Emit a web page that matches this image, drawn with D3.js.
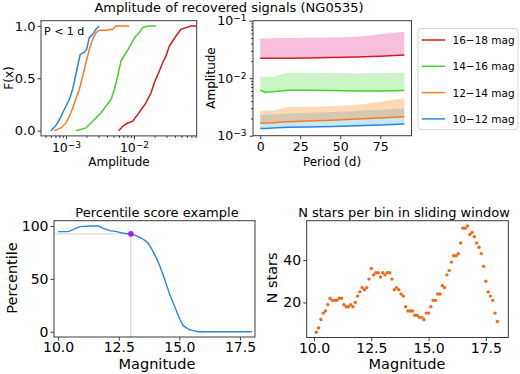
<!DOCTYPE html>
<html>
<head>
<meta charset="utf-8">
<script src="https://cdn.jsdelivr.net/npm/d3@7"></script>
<style>
  body { margin: 0; background: white; }
  svg { font-family: "DejaVu Sans", sans-serif; }
</style>
</head>
<body>
<div id="chart"></div>
<script>
// ---- data: CDF of recovered amplitudes (P < 1 d), [amplitude, F(x)]
const cdfBlue = [[6.0e-4,0],[7.1e-4,0.048],[8.4e-4,0.131],[9.4e-4,0.20],[1.12e-3,0.297],[1.25e-3,0.393],[1.40e-3,0.537],[1.52e-3,0.649],[1.62e-3,0.728],[1.86e-3,0.75],[2.01e-3,0.776],[2.2e-3,0.888],[2.47e-3,0.92],[2.76e-3,0.968],[3.09e-3,1.0]];
const cdfOrange = [[6.7e-4,0],[8.4e-4,0.026],[1.0e-3,0.073],[1.18e-3,0.169],[1.33e-3,0.265],[1.57e-3,0.393],[1.76e-3,0.52],[1.97e-3,0.649],[2.2e-3,0.776],[2.47e-3,0.872],[2.76e-3,0.936],[3.09e-3,0.96],[3.87e-3,0.96],[4.85e-3,0.968],[5.43e-3,1.0],[8.5e-3,1.0]];
const cdfGreen = [[1.40e-3,0],[1.97e-3,0.026],[2.33e-3,0.073],[2.76e-3,0.121],[3.27e-3,0.169],[3.87e-3,0.233],[4.59e-3,0.297],[5.14e-3,0.393],[5.75e-3,0.52],[6.44e-3,0.665],[7.62e-3,0.744],[8.5e-3,0.792],[9.55e-3,0.856],[1.07e-2,0.904],[1.2e-2,0.936],[1.34e-2,0.984],[1.59e-2,1.0],[2.11e-2,1.0]];
const cdfRed = [[5.95e-3,0],[6.81e-3,0.042],[8.07e-3,0.073],[9.55e-3,0.089],[1.13e-2,0.153],[1.27e-2,0.2],[1.5e-2,0.265],[1.78e-2,0.361],[1.99e-2,0.457],[2.36e-2,0.569],[2.64e-2,0.649],[2.95e-2,0.712],[3.31e-2,0.808],[3.7e-2,0.856],[4.15e-2,0.904],[4.91e-2,0.968],[5.82e-2,0.984],[6.89e-2,1.0],[8.17e-2,1.0]];

// ---- data: amplitude vs period, median line and upper band edge
const periods = [0, 3, 8, 17, 30, 45, 60, 75, 90];
const redMed = [0.0222, 0.0222, 0.0222, 0.0223, 0.0225, 0.0228, 0.0234, 0.0242, 0.0253];
const redTop = [0.049, 0.0492, 0.0495, 0.050, 0.0505, 0.051, 0.052, 0.058, 0.064];
const greenMed = [0.0062, 0.0057, 0.0058, 0.0062, 0.0062, 0.0061, 0.0060, 0.0060, 0.0061];
const greenTop = [0.0106, 0.0105, 0.0106, 0.0125, 0.0124, 0.0123, 0.0122, 0.0123, 0.0124];
const orangeMed = [0.00164, 0.00166, 0.00168, 0.00175, 0.00180, 0.00186, 0.00195, 0.00204, 0.00214];
const orangeTop = [0.00272, 0.00272, 0.00275, 0.00311, 0.00318, 0.00325, 0.00341, 0.0039, 0.00446];
const blueMed = [0.00134, 0.00134, 0.00136, 0.0014, 0.00142, 0.00145, 0.00149, 0.00154, 0.0016];
const blueTop = [0.00229, 0.0023, 0.00233, 0.00244, 0.0025, 0.00258, 0.00268, 0.00283, 0.00298];
const legendLabels = ["16\u221218 mag", "14\u221216 mag", "12\u221214 mag", "10\u221212 mag"];

// ---- data: percentile score example
const pctMag = [10.0, 10.42, 10.9, 11.31, 11.66, 11.86, 12.14, 12.41, 12.69, 13.0, 13.24, 13.44, 13.65, 13.79, 13.92, 14.06, 14.2, 14.33, 14.47, 14.61, 14.75, 14.89, 15.03, 15.16, 15.37, 15.57, 15.78, 16.0, 18.0];
const pctVal = [94.7, 94.7, 99.4, 100, 100, 97.8, 95.6, 94.7, 93.1, 92.5, 90.6, 88.4, 85.2, 81.1, 75.7, 69.4, 61.6, 53.8, 44.3, 34.9, 27, 19.2, 11.3, 5.7, 2.5, 1.0, 0, 0, 0];
const markMag = 13.0, markPct = 92.5;

// ---- data: N stars per bin in sliding window
const binMag = [10.1,10.2,10.3,10.4,10.5,10.6,10.7,10.8,10.9,11.0,11.1,11.2,11.3,11.4,11.5,11.6,11.7,11.8,11.9,12.0,
  12.1,12.2,12.3,12.4,12.5,12.6,12.7,12.8,12.9,13.0,13.1,13.2,13.3,13.4,13.5,13.6,13.7,13.8,13.9,14.0,
  14.1,14.2,14.3,14.4,14.5,14.6,14.7,14.8,14.9,15.0,15.1,15.2,15.3,15.4,15.5,15.6,15.7,15.8,15.9,16.0,
  16.1,16.2,16.3,16.4,16.5,16.6,16.7,16.8,16.9,17.0,17.1,17.2,17.3,17.4,17.5,17.6,17.7,17.8,17.9,18.0];
const binN = [6,8,12,15,16,19,22,21,21,21,22,22,19,18,18,19,18,20,23,25,
  27,26,27,31,36,33,34,34,32,34,33,34,34,31,26,27,26,24,23,18,
  16,16,16,14,14,13,13,12,15,15,18,21,21,24,24,28,27,33,35,39,
  42,42,43,48,55,55,56,52,53,51,48,46,43,37,30,25,23,21,15,11];

const C = { red: "#d9191c", green: "#45d12c", orange: "#f97b1f", blue: "#2f82e0" };

const svg = d3.select("#chart").append("svg")
  .attr("width", 520).attr("height", 374)
  .style("background-color", "white");

function frame(x0, y0, x1, y1) {
  svg.append("rect").attr("x", x0).attr("y", y0)
    .attr("width", x1 - x0).attr("height", y1 - y0)
    .attr("fill", "none").attr("stroke", "#3a3a3a").attr("stroke-width", 1);
}
function styleAxis(g, size) {
  g.select(".domain").remove();
  g.selectAll(".tick line").attr("stroke", "#3a3a3a");
  g.selectAll("text").attr("fill", "black").style("font-size", size + "px")
    .style("font-family", "DejaVu Sans");
}
function sciLabel(sel, dy) {
  sel.each(function(d) {
    const t = d3.select(this).text("");
    t.append("tspan").text("10");
    t.append("tspan").attr("dy", dy).style("font-size", "0.72em").text("\u2212" + Math.round(-Math.log10(d)));
  });
}
function minors(lo, hi) {
  const out = [];
  for (let e = -4; e <= -1; e++) for (let m = 2; m <= 9; m++) {
    const v = m * Math.pow(10, e);
    if (v > lo && v < hi) out.push(v);
  }
  return out;
}

// Titulo geral
svg.append("text").attr("x", 229).attr("y", 11.5).attr("text-anchor", "middle")
  .style("font-size", "13px").text("Amplitude of recovered signals (NG0535)");

// ===== Panel 1: CDF
{
  const x = d3.scaleLog().domain([4.29e-4, 8.36e-2]).range([41, 196.7]);
  const y = d3.scaleLinear().domain([-0.05, 1.05]).range([135.9, 20.7]);
  const line = d3.line().x(d => x(d[0])).y(d => y(d[1]));
  [[cdfBlue, C.blue], [cdfOrange, C.orange], [cdfGreen, C.green], [cdfRed, C.red]].forEach(([d, c]) => {
    svg.append("path").datum(d).attr("d", line).attr("fill", "none")
      .attr("stroke", c).attr("stroke-width", 1.5);
  });
  svg.append("g").attr("transform", "translate(0,135.9)")
    .call(d3.axisBottom(x).tickValues(minors(4.29e-4, 8.36e-2)).tickSize(2).tickFormat(""))
    .call(g => styleAxis(g, 12));
  const gx = svg.append("g").attr("transform", "translate(0,135.9)")
    .call(d3.axisBottom(x).tickValues([1e-3, 1e-2]).tickSize(3.5).tickPadding(4))
    .call(g => styleAxis(g, 12.5));
  gx.selectAll(".tick text").call(sciLabel, "-0.45em");
  svg.append("g").attr("transform", "translate(41,0)")
    .call(d3.axisLeft(y).tickValues([0, 0.5, 1]).tickFormat(d3.format(".1f")).tickSize(3.5).tickPadding(2))
    .call(g => styleAxis(g, 13));
  frame(41, 20.7, 196.7, 135.9);
  svg.append("text").attr("x", 44).attr("y", 35).style("font-size", "11px").text("P < 1 d");
  svg.append("text").attr("x", 119).attr("y", 166).attr("text-anchor", "middle")
    .style("font-size", "12px").text("Amplitude");
  svg.append("text").attr("transform", "translate(13,78) rotate(-90)").attr("text-anchor", "middle")
    .style("font-size", "12px").text("F(x)");
}

// ===== Panel 2: amplitude vs period
{
  const x = d3.scaleLinear().domain([-4.5, 94.5]).range([253, 411.5]);
  const y = d3.scaleLog().domain([1e-3, 1e-1]).range([135.7, 20.7]);
  const series = [
    [blueMed, blueTop, C.blue, "#3cb4e6", 0.3],
    [orangeMed, orangeTop, C.orange, "#ff7f0e", 0.3],
    [greenMed, greenTop, C.green, "#5ee04a", 0.32],
    [redMed, redTop, C.red, "#ee5fa8", 0.4]
  ];
  series.forEach(([med, top, c, fc, op]) => {
    const area = d3.area().x((d, i) => x(periods[i])).y0((d, i) => y(med[i])).y1(d => y(d));
    svg.append("path").datum(top).attr("d", area).attr("fill", fc).attr("fill-opacity", op);
  });
  series.forEach(([med, top, c]) => {
    const line = d3.line().x((d, i) => x(periods[i])).y(d => y(d));
    svg.append("path").datum(med).attr("d", line).attr("fill", "none")
      .attr("stroke", c).attr("stroke-width", 1.5);
  });
  svg.append("g").attr("transform", "translate(0,135.7)")
    .call(d3.axisBottom(x).tickValues([0, 25, 50, 75]).tickSize(3.5).tickPadding(3))
    .call(g => styleAxis(g, 12.5));
  svg.append("g").attr("transform", "translate(253,0)")
    .call(d3.axisLeft(y).tickValues(minors(1e-3, 1e-1)).tickSize(2).tickFormat(""))
    .call(g => styleAxis(g, 12));
  const gy = svg.append("g").attr("transform", "translate(253,0)")
    .call(d3.axisLeft(y).tickValues([1e-3, 1e-2, 1e-1]).tickSize(3.5).tickPadding(3))
    .call(g => styleAxis(g, 12.5));
  gy.selectAll(".tick text").call(sciLabel, "-0.45em");
  frame(253, 20.7, 411.5, 135.7);
  svg.append("text").attr("x", 332).attr("y", 166).attr("text-anchor", "middle")
    .style("font-size", "12px").text("Period (d)");
  svg.append("text").attr("transform", "translate(215,78) rotate(-90)").attr("text-anchor", "middle")
    .style("font-size", "12px").text("Amplitude");

  // Legenda
  svg.append("rect").attr("x", 418).attr("y", 28.5).attr("width", 100).attr("height", 101)
    .attr("rx", 3).attr("fill", "white").attr("stroke", "#d8d8d8");
  const legColors = [C.red, C.green, C.orange, C.blue];
  legendLabels.forEach((lab, i) => {
    const yy = 40 + i * 26.3;
    svg.append("line").attr("x1", 422).attr("x2", 445).attr("y1", yy).attr("y2", yy)
      .attr("stroke", legColors[i]).attr("stroke-width", 1.5);
    svg.append("text").attr("x", 452.5).attr("y", yy + 4).style("font-size", "10.5px").text(lab);
  });
}

// ===== Panel 3: percentile score example
{
  const x = d3.scaleLinear().domain([9.83, 18.12]).range([54, 255]);
  const y = d3.scaleLinear().domain([-5, 105]).range([337, 220.7]);
  svg.append("line").attr("x1", x(9.83)).attr("x2", x(markMag)).attr("y1", y(markPct)).attr("y2", y(markPct))
    .attr("stroke", "#d0d0d0").attr("stroke-width", 1);
  svg.append("line").attr("x1", x(markMag)).attr("x2", x(markMag)).attr("y1", y(markPct)).attr("y2", y(-5))
    .attr("stroke", "#d0d0d0").attr("stroke-width", 1);
  const line = d3.line().x((d, i) => x(pctMag[i])).y(d => y(d));
  svg.append("path").datum(pctVal).attr("d", line).attr("fill", "none")
    .attr("stroke", C.blue).attr("stroke-width", 1.4);
  svg.append("circle").attr("cx", x(markMag)).attr("cy", y(markPct)).attr("r", 2.8).attr("fill", "#a322ee");
  svg.append("g").attr("transform", "translate(0,337)")
    .call(d3.axisBottom(x).tickValues([10, 12.5, 15, 17.5]).tickFormat(d3.format(".1f")).tickSize(3.5).tickPadding(2))
    .call(g => styleAxis(g, 14));
  svg.append("g").attr("transform", "translate(54,0)")
    .call(d3.axisLeft(y).tickValues([0, 50, 100]).tickSize(3.5).tickPadding(2))
    .call(g => styleAxis(g, 14));
  frame(54, 220.7, 255, 337);
  svg.append("text").attr("x", 157).attr("y", 217).attr("text-anchor", "middle")
    .style("font-size", "13px").text("Percentile score example");
  svg.append("text").attr("x", 157).attr("y", 369).attr("text-anchor", "middle")
    .style("font-size", "14.5px").text("Magnitude");
  svg.append("text").attr("transform", "translate(17,278) rotate(-90)").attr("text-anchor", "middle")
    .style("font-size", "14.5px").text("Percentile");
}

// ===== Panel 4: N stars per bin
{
  const x = d3.scaleLinear().domain([9.68, 18.48]).range([306.7, 508.3]);
  const y = d3.scaleLinear().domain([3.5, 58.5]).range([337.5, 220.7]);
  svg.selectAll(".dot").data(binN).enter().append("circle")
    .attr("class", "dot")
    .attr("cx", (d, i) => x(binMag[i])).attr("cy", d => y(d))
    .attr("r", 1.7).attr("fill", "#ef6a1a");
  svg.append("g").attr("transform", "translate(0,337.5)")
    .call(d3.axisBottom(x).tickValues([10, 12.5, 15, 17.5]).tickFormat(d3.format(".1f")).tickSize(3.5).tickPadding(2))
    .call(g => styleAxis(g, 14));
  svg.append("g").attr("transform", "translate(306.7,0)")
    .call(d3.axisLeft(y).tickValues([20, 40]).tickSize(3.5).tickPadding(2))
    .call(g => styleAxis(g, 14));
  frame(306.7, 220.7, 508.3, 337.5);
  svg.append("text").attr("x", 404).attr("y", 217).attr("text-anchor", "middle")
    .style("font-size", "13px").text("N stars per bin in sliding window");
  svg.append("text").attr("x", 407).attr("y", 369).attr("text-anchor", "middle")
    .style("font-size", "14.5px").text("Magnitude");
  svg.append("text").attr("transform", "translate(277,278) rotate(-90)").attr("text-anchor", "middle")
    .style("font-size", "14.5px").text("N stars");
}
</script>
</body>
</html>
